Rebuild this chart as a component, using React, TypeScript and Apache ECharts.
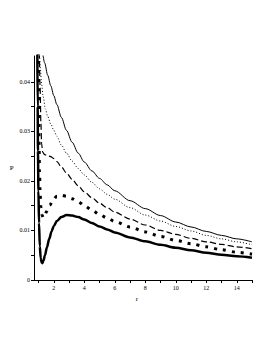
import React, { useEffect, useRef } from "react";
import * as echarts from "echarts";

const rSolid = [1.28, 1.4, 1.6, 1.8, 2.0, 2.2, 2.5, 2.83, 3.2, 3.6, 4.0, 4.5, 5.0, 5.5, 6.0, 7.0, 8.0, 9.0, 10, 11, 12, 13, 14, 15];
const pSolid = [0.0456, 0.0438, 0.0413, 0.0392, 0.0372, 0.0354, 0.0328, 0.0302, 0.0278, 0.0256, 0.0238, 0.022, 0.0205, 0.0192, 0.018, 0.016, 0.0144, 0.013, 0.0117, 0.0107, 0.0098, 0.009, 0.0083, 0.0077];

const rDotted = [1.06, 1.12, 1.2, 1.3, 1.45, 1.6, 1.8, 2.0, 2.2, 2.5, 2.83, 3.2, 3.6, 4.0, 4.5, 5.0, 5.5, 6.0, 7.0, 8.0, 9.0, 10, 11, 12, 13, 14, 15];
const pDotted = [0.046, 0.0425, 0.0395, 0.037, 0.0345, 0.033, 0.0315, 0.0302, 0.029, 0.0272, 0.0256, 0.024, 0.0225, 0.0212, 0.0197, 0.0184, 0.0173, 0.0163, 0.0146, 0.0131, 0.0119, 0.0108, 0.0099, 0.009, 0.0083, 0.0077, 0.0071];

const rDashed = [1.05, 1.1, 1.15, 1.2, 1.27, 1.4, 1.6, 1.8, 2.0, 2.2, 2.5, 2.83, 3.2, 3.6, 4.0, 4.5, 5.0, 5.5, 6.0, 7.0, 8.0, 9.0, 10, 11, 12, 13, 14, 15];
const pDashed = [0.046, 0.039, 0.032, 0.0275, 0.0258, 0.0253, 0.0251, 0.0249, 0.0245, 0.0239, 0.0228, 0.0216, 0.0203, 0.019, 0.0178, 0.0166, 0.0155, 0.0146, 0.0137, 0.0123, 0.0111, 0.01, 0.0092, 0.0084, 0.0077, 0.0072, 0.0067, 0.0063];

const rDots = [0.98, 1.0, 1.03, 1.06, 1.1, 1.15, 1.22, 1.3, 1.4, 1.52, 1.74, 1.95, 2.2, 2.5, 2.83, 3.2, 3.6, 4.0, 4.5, 5.0, 5.5, 6.0, 7.0, 8.0, 9.0, 10, 11, 12, 13, 14, 15];
const pDots = [0.046, 0.036, 0.028, 0.022, 0.0175, 0.0148, 0.0132, 0.0126, 0.0129, 0.0138, 0.0151, 0.0162, 0.0169, 0.0171, 0.0169, 0.0164, 0.0158, 0.015, 0.0141, 0.0132, 0.0125, 0.0118, 0.0107, 0.0097, 0.0088, 0.008, 0.0073, 0.0067, 0.0061, 0.0056, 0.0052];

const rThick = [0.92, 0.94, 0.96, 0.99, 1.03, 1.08, 1.14, 1.2, 1.25, 1.32, 1.42, 1.55, 1.7, 1.85, 2.0, 2.2, 2.5, 2.83, 3.2, 3.6, 4.0, 4.5, 5.0, 5.5, 6.0, 7.0, 8.0, 9.0, 10, 11, 12, 13, 14, 15];
const pThick = [0.046, 0.035, 0.026, 0.018, 0.0115, 0.0068, 0.0044, 0.0035, 0.0034, 0.0039, 0.005, 0.0066, 0.0083, 0.0098, 0.0109, 0.0119, 0.0127, 0.0131, 0.013, 0.0127, 0.0122, 0.0115, 0.0108, 0.0102, 0.0096, 0.0086, 0.0078, 0.0071, 0.0065, 0.006, 0.0055, 0.0051, 0.0048, 0.0045];

const xTicks = [1, 2, 3, 4, 5, 6, 7, 8, 9, 10, 11, 12, 13, 14, 15];
const xLabels = [2, 4, 6, 8, 10, 12, 14];
const yTicks = [0, 0.005, 0.01, 0.015, 0.02, 0.025, 0.03, 0.035, 0.04];
const yLabels = [0, 0.01, 0.02, 0.03, 0.04];

const zip = (xs: number[], ys: number[]) => xs.map((x, i) => [x, ys[i]]);

export default function App() {
  const ref = useRef<HTMLDivElement>(null);
  useEffect(() => {
    if (!ref.current) return;
    const chart = echarts.init(ref.current, null, { renderer: "svg" });
    const font = "Liberation Serif";
    const base = {
      type: "line",
      showSymbol: false,
      symbol: "none",
      smooth: 0.3,
      smoothMonotone: "x",
      clip: true,
    };
    chart.setOption({
      animation: false,
      backgroundColor: "#ffffff",
      grid: { left: 34, right: 21, top: 56, bottom: 73, containLabel: false },
      xAxis: {
        type: "value",
        min: 0.7,
        max: 15,
        name: "r",
        nameLocation: "middle",
        nameGap: 14,
        nameTextStyle: { fontFamily: font, fontSize: 7, color: "#000", padding: [0, 12, 0, 0] },
        axisLine: { lineStyle: { color: "#000", width: 1 } },
        axisTick: { show: true, length: 3, customValues: xTicks, lineStyle: { color: "#000" } },
        axisLabel: { customValues: xLabels, fontFamily: font, fontSize: 6, color: "#000", margin: 5 },
        splitLine: { show: false },
      },
      yAxis: {
        type: "value",
        min: 0,
        max: 0.0452,
        name: "P",
        nameLocation: "middle",
        nameGap: 20,
        nameRotate: 0,
        nameTextStyle: { fontFamily: font, fontSize: 7, color: "#000" },
        axisLine: { show: true, lineStyle: { color: "#000", width: 1 } },
        axisTick: { show: true, length: 3, customValues: yTicks, lineStyle: { color: "#000" } },
        axisLabel: {
          customValues: yLabels,
          fontFamily: font,
          fontSize: 6,
          color: "#000",
          margin: 4,
          formatter: (v: number) => (v === 0 ? "0" : v.toFixed(2)),
        },
        splitLine: { show: false },
      },
      series: [
        { ...base, name: "T1", data: zip(rSolid, pSolid), lineStyle: { color: "#000", width: 1, type: "solid" } },
        { ...base, name: "T2", data: zip(rDotted, pDotted), lineStyle: { color: "#000", width: 1, type: [1, 2] } },
        { ...base, name: "Tc", data: zip(rDashed, pDashed), lineStyle: { color: "#000", width: 1.2, type: [6, 3] } },
        { ...base, name: "T3", data: zip(rDots, pDots), lineStyle: { color: "#000", width: 3, type: [3, 6], cap: "butt" } },
        { ...base, name: "T4", data: zip(rThick, pThick), lineStyle: { color: "#000", width: 2.5, type: "solid" } },
      ],
    });
    return () => chart.dispose();
  }, []);
  return <div ref={ref} style={{ position: "fixed", left: 0, top: 0, width: 273, height: 353 }} />;
}
